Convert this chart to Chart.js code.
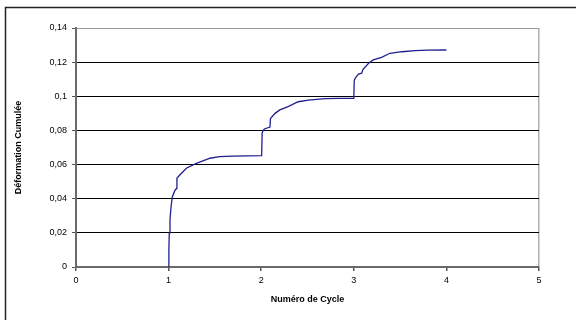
<!DOCTYPE html>
<html>
<head>
<meta charset="utf-8">
<script src="https://cdn.jsdelivr.net/npm/chart.js@4/dist/chart.umd.min.js"></script>
<style>
  html, body { margin: 0; padding: 0; background: #fff; }
  #wrap { width: 576px; height: 320px; }
</style>
</head>
<body>
<div id="wrap"><canvas id="myChart" width="576" height="320"></canvas></div>
<script>
// Données
const cycles = [1.0, 1.003, 1.007, 1.015, 1.026, 1.04, 1.069, 1.087, 1.09, 1.123, 1.195, 1.30, 1.447, 1.55, 1.7, 1.85, 2.005,
                2.01, 2.02, 2.04, 2.095, 2.1, 2.15, 2.2, 2.29, 2.40, 2.51, 2.69, 2.85, 3.0,
                3.005, 3.02, 3.05, 3.085, 3.10, 3.16, 3.21, 3.30, 3.39, 3.52, 3.66, 3.8, 4.0];
const deformation = [0, 0.01, 0.02, 0.0275, 0.035, 0.041, 0.045, 0.046, 0.052, 0.054, 0.058, 0.0607, 0.0637, 0.0646, 0.065, 0.0651, 0.0652,
                     0.0783, 0.080, 0.081, 0.082, 0.087, 0.090, 0.092, 0.0939, 0.0968, 0.0978, 0.0986, 0.0988, 0.0988,
                     0.1095, 0.1110, 0.1130, 0.1135, 0.1158, 0.1193, 0.1213, 0.1228, 0.1252, 0.1261, 0.1267, 0.1270, 0.1271];
const xTicks = [0, 1, 2, 3, 4, 5];
const yTicks = [0, 0.02, 0.04, 0.06, 0.08, 0.1, 0.12, 0.14];

const points = cycles.map((c, i) => ({ x: c, y: deformation[i] }));
const fmt = v => String(+v.toFixed(2)).replace('.', ',');

// cadre extérieur du graphique
const frame = {
  id: 'frame',
  beforeDraw(chart) {
    const ctx = chart.ctx;
    ctx.save();
    ctx.fillStyle = '#fff';
    ctx.fillRect(0, 0, chart.width, chart.height);
    ctx.strokeStyle = '#222';
    ctx.lineWidth = 1.5;
    ctx.strokeRect(5.5, 7.5, 700, 400);
    ctx.restore();
  }
};

new Chart(document.getElementById('myChart'), {
  type: 'scatter',
  data: {
    datasets: [{
      data: points,
      showLine: true,
      borderColor: '#1f1f90',
      borderWidth: 1.3,
      pointRadius: 0,
      tension: 0
    }]
  },
  options: {
    responsive: false,
    animation: false,
    layout: { padding: { left: 0, top: 28, right: 37, bottom: 0 } },
    plugins: { legend: { display: false }, tooltip: { enabled: false } },
    scales: {
      x: {
        type: 'linear',
        min: 0, max: 5,
        afterBuildTicks: s => { s.ticks = xTicks.map(v => ({ value: v })); },
        afterFit: s => { s.height = 53; },
        ticks: {
          callback: v => fmt(v),
          color: '#000',
          font: { family: 'Liberation Sans, Arial', size: 9 },
          padding: 4, maxRotation: 0
        },
        grid: {
          color: c => (c.tick && c.tick.value === 5) ? '#b0b0b0' : 'rgba(0,0,0,0)',
          lineWidth: 1.5,
          tickColor: '#555',
          tickLength: 4
        },
        border: { color: '#6a6a6a', width: 2 },
        title: {
          display: true,
          text: 'Numéro de Cycle',
          color: '#000',
          font: { family: 'Liberation Sans, Arial', size: 9, weight: 'bold' },
          padding: { top: 4, bottom: 15 }
        }
      },
      y: {
        min: 0, max: 0.14,
        afterBuildTicks: s => { s.ticks = yTicks.map(v => ({ value: v })); },
        afterFit: s => { s.width = 76; },
        ticks: {
          callback: v => fmt(v),
          color: '#000',
          font: { family: 'Liberation Sans, Arial', size: 9 },
          padding: 5
        },
        grid: {
          color: c => (c.tick && c.tick.value >= 0.139) ? '#999' : '#000',
          lineWidth: 1,
          tickColor: '#555',
          tickLength: 4
        },
        border: { color: '#6a6a6a', width: 2 },
        title: {
          display: true,
          text: 'Déformation Cumulée',
          color: '#000',
          font: { family: 'Liberation Sans, Arial', size: 9, weight: 'bold' },
          padding: { top: 13, bottom: 4 }
        }
      }
    }
  },
  plugins: [frame]
});
</script>
</body>
</html>
